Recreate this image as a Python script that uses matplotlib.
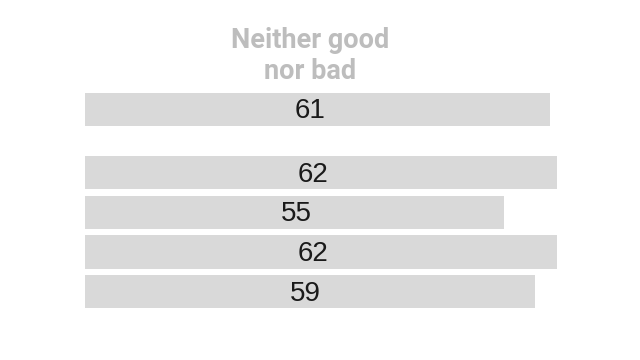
import matplotlib.pyplot as plt

values = [61, 62, 55, 62, 59]
positions = [0, 1.6, 2.6, 3.6, 4.6]
labels = ['61', '62', '55', '62', '59']

bar_color = '#d9d9d9'

fig = plt.figure(figsize=(6.4, 3.6), dpi=100)
ax = fig.add_axes([0, 0, 1, 1])
ax.barh(positions, values, height=0.84, color=bar_color)

# label placement as in the original (slightly left of bar centre)
for p, v, t in zip(positions, values, labels):
	ax.text(11.27 + 0.30 * v, p + 0.05, t, ha='center', va='center',
			fontsize=20, color='#1a1a1a', family='Liberation Sans')

ax.set_xlim(-85 / 7.62, (640 - 85) / 7.62)
ax.set_ylim((360 - 109.5) / 39.6, -109.5 / 39.6)
ax.axis('off')

fig.text(310 / 640, 1 - 56 / 360, 'Neither good\nnor bad', ha='center', va='center',
		fontsize=19.5, fontweight='bold', color='#bdbdbd', family='Roboto',
		linespacing=1.2)

fig.savefig('out.png', dpi=100)
